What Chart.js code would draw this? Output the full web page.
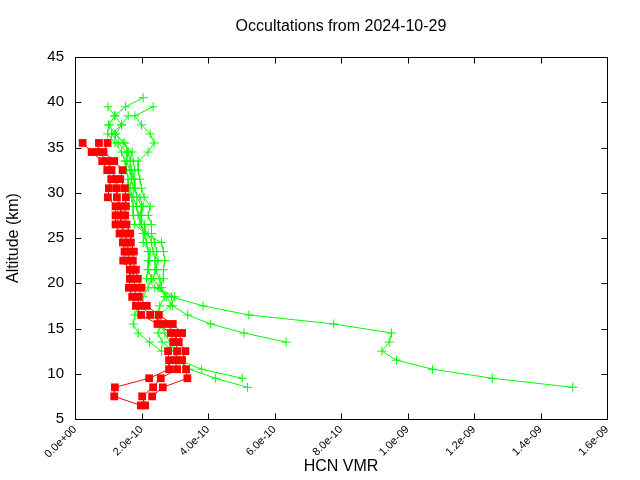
<!DOCTYPE html>
<html>
<head>
<meta charset="utf-8">
<script src="https://cdn.jsdelivr.net/npm/chart.js@4/dist/chart.umd.min.js"></script>
<style>
  html, body { margin: 0; padding: 0; background: #fff; }
  canvas { display: block; }
</style>
</head>
<body>
<canvas id="chart" width="640" height="480"></canvas>
<script>
"use strict";

// altitude levels (km), top to bottom
const ALTITUDES = [40.5, 39.5, 38.5, 37.5, 36.5, 35.5, 34.5, 33.5, 32.5, 31.5,
  30.5, 29.5, 28.5, 27.5, 26.5, 25.5, 24.5, 23.5, 22.5, 21.5,
  20.5, 19.5, 18.5, 17.5, 16.5, 15.5, 14.5, 13.5, 12.5, 11.5,
  10.5, 9.5, 8.5, 7.5, 6.5];

// HCN VMR in units of 1e-10, one entry per altitude (null = no value)
const GREEN_A = [2.05, 1.52, 1.20, 1.02, 0.98, 1.20, 1.40, 1.50, 1.55, 1.60,
  1.60, 1.70, 1.75, 1.75, 1.80, 2.10, 2.05, 2.26, 2.20, 2.20,
  2.15, 2.40, 2.90, 3.85, 5.23, 7.78, 9.52, 9.45, 9.23, 9.67,
  10.75, 12.55, 14.97, null, null];
const GREEN_B = [null, 2.35, 1.80, 2.00, 2.26, 2.38, 2.20, 1.90, 1.90, 1.95,
  2.00, 2.08, 2.26, 2.20, 2.30, 2.30, 2.40, 2.46, 2.40, 2.46,
  2.35, 2.56, 2.76, 2.93, 3.39, 4.08, 5.08, 6.35, null, null,
  null, null, null, null, null];
const GREEN_C = [null, 0.99, 1.20, 1.40, 1.22, 1.45, 1.72, 1.65, 1.70, 1.78,
  1.80, 1.86, 2.00, 1.95, 2.10, 2.10, 2.60, 2.66, 2.70, 2.66,
  2.66, 2.50, 3.00, 2.86, 2.53, 2.60, 2.50, 2.62, 2.98, 3.10,
  3.44, 4.23, 5.19, null, null];
const GREEN_D = [null, null, 1.60, 1.40, 1.10, 1.30, 1.55, 1.75, 1.80, 1.70,
  1.75, 1.95, 2.05, 2.00, 1.95, 2.20, 2.30, 2.35, 2.50, 2.40,
  2.55, 2.60, 2.70, 2.55, 2.45, 2.55, 2.70, 2.85, 3.00, 3.15,
  3.81, 5.03, null, null, null];
const GREEN_E = [null, null, null, 1.02, 1.20, 1.50, 1.60, 1.55, 1.65, 1.70,
  1.65, 1.75, 1.85, 1.90, 2.00, 2.05, 2.15, 2.20, 2.25, 2.20,
  2.30, 2.20, 2.05, 1.90, 1.80, 1.75, 1.90, 2.24, 2.60, null,
  null, null, null, null, null];

const RED_A = [null, null, null, null, null, 0.23, 0.50, 0.82, 0.97, 1.09,
  1.02, 0.99, 1.22, 1.22, 1.22, 1.34, 1.44, 1.49, 1.45, 1.65,
  1.65, 1.62, 1.72, 1.83, 1.99, 2.48, 2.88, 2.96, 2.80, 2.83,
  2.83, 2.23, 1.20, 1.18, 1.98];
const RED_B = [null, null, null, null, null, 0.72, 0.68, 1.00, 1.10, 1.23,
  1.26, 1.26, 1.38, 1.37, 1.38, 1.50, 1.56, 1.62, 1.59, 1.74,
  1.77, 1.80, 1.82, 1.98, 2.26, 2.71, 3.04, 3.04, 3.07, 3.01,
  3.07, 2.58, 2.35, 2.02, 2.11];
const RED_C = [null, null, null, null, null, 0.98, 0.86, 1.18, 1.43, 1.36,
  1.50, 1.53, 1.53, 1.51, 1.55, 1.66, 1.68, 1.77, 1.74, 1.83,
  1.89, 2.00, 1.92, 2.16, 2.52, 2.94, 3.22, 3.12, 3.32, 3.22,
  3.34, 3.38, 2.64, 2.32, null];

const X_TICK_VALUES = [0, 2e-10, 4e-10, 6e-10, 8e-10, 1e-9, 1.2e-9, 1.4e-9, 1.6e-9];
const X_TICK_LABELS = ["0.0e+00", "2.0e-10", "4.0e-10", "6.0e-10", "8.0e-10",
  "1.0e-09", "1.2e-09", "1.4e-09", "1.6e-09"];
const Y_TICKS = [5, 10, 15, 20, 25, 30, 35, 40, 45];

const GREEN = "#00ff00";
const RED = "#ff0000";
const FONT = "'Liberation Sans', Arial, sans-serif";

function toPoints(values) {
  const pts = [];
  values.forEach((v, i) => {
    if (v !== null) pts.push({ x: v * 1e-10, y: ALTITUDES[i] });
  });
  return pts;
}

function redSet(values) {
  return {
    data: toPoints(values),
    showLine: true,
    borderColor: RED,
    backgroundColor: RED,
    borderWidth: 1,
    pointStyle: "rect",
    pointRadius: 5.5,
    pointBorderWidth: 0,
    pointBackgroundColor: RED,
  };
}

function greenSet(values) {
  return {
    data: toPoints(values),
    showLine: true,
    borderColor: GREEN,
    backgroundColor: GREEN,
    borderWidth: 1,
    pointStyle: "cross",
    pointRadius: 4.5,
    pointBorderWidth: 1,
    pointBorderColor: GREEN,
  };
}

// box round the plot with inward ticks on all four sides
const framePlugin = {
  id: "frame",
  afterDatasetsDraw(chart) {
    const { ctx, chartArea: a, scales } = chart;
    const L = Math.round(a.left) + 0.5, R = Math.round(a.right) + 0.5;
    const T = Math.round(a.top) + 0.5, B = Math.round(a.bottom) + 0.5;
    const len = 6;
    ctx.save();
    ctx.strokeStyle = "#000";
    ctx.lineWidth = 1;
    ctx.beginPath();
    ctx.rect(L, T, R - L, B - T);
    for (const v of X_TICK_VALUES) {
      const px = Math.round(scales.x.getPixelForValue(v)) + 0.5;
      ctx.moveTo(px, B); ctx.lineTo(px, B - len);
      ctx.moveTo(px, T); ctx.lineTo(px, T + len);
    }
    for (const v of Y_TICKS) {
      const py = Math.round(scales.y.getPixelForValue(v)) + 0.5;
      ctx.moveTo(L, py); ctx.lineTo(L + len, py);
      ctx.moveTo(R, py); ctx.lineTo(R - len, py);
    }
    ctx.stroke();
    ctx.restore();
  },
};

new Chart(document.getElementById("chart"), {
  type: "scatter",
  data: {
    datasets: [
      redSet(RED_A), redSet(RED_B), redSet(RED_C),
      greenSet(GREEN_A), greenSet(GREEN_B), greenSet(GREEN_C),
      greenSet(GREEN_D), greenSet(GREEN_E),
    ],
  },
  options: {
    responsive: false,
    animation: false,
    layout: { padding: { left: 0, right: 33, top: 0, bottom: 0 } },
    plugins: {
      legend: { display: false },
      tooltip: { enabled: false },
      title: {
        display: true,
        fullSize: false,
        text: "Occultations from 2024-10-29",
        color: "#000",
        font: { family: FONT, size: 16, weight: "normal" },
        padding: { top: 16.5, bottom: 21.3 },
      },
    },
    scales: {
      x: {
        type: "linear",
        min: 0,
        max: 1.6e-9,
        grid: { display: false, drawTicks: false },
        border: { display: false },
        afterBuildTicks: (scale) => {
          scale.ticks = X_TICK_VALUES.map((v) => ({ value: v }));
        },
        afterFit: (scale) => { scale.height = 61; },
        ticks: {
          autoSkip: false,
          maxRotation: 45,
          minRotation: 45,
          padding: 4,
          color: "#000",
          font: { family: FONT, size: 11 },
          callback: (v, i) => X_TICK_LABELS[i],
        },
        title: {
          display: true,
          text: "HCN VMR",
          color: "#000",
          font: { family: FONT, size: 16 },
          padding: { top: 0, bottom: 4 },
        },
      },
      y: {
        type: "linear",
        min: 5,
        max: 45,
        grid: { display: false, drawTicks: false },
        border: { display: false },
        afterBuildTicks: (scale) => {
          scale.ticks = Y_TICKS.map((v) => ({ value: v }));
        },
        afterFit: (scale) => { scale.width = 75; },
        ticks: {
          padding: 11,
          color: "#000",
          font: { family: FONT, size: 15 },
          callback: (v) => String(v),
        },
        title: {
          display: true,
          text: "Altitude (km)",
          color: "#000",
          font: { family: FONT, size: 16 },
          padding: { top: 4, bottom: 0 },
        },
      },
    },
  },
  plugins: [framePlugin],
});
</script>
</body>
</html>
